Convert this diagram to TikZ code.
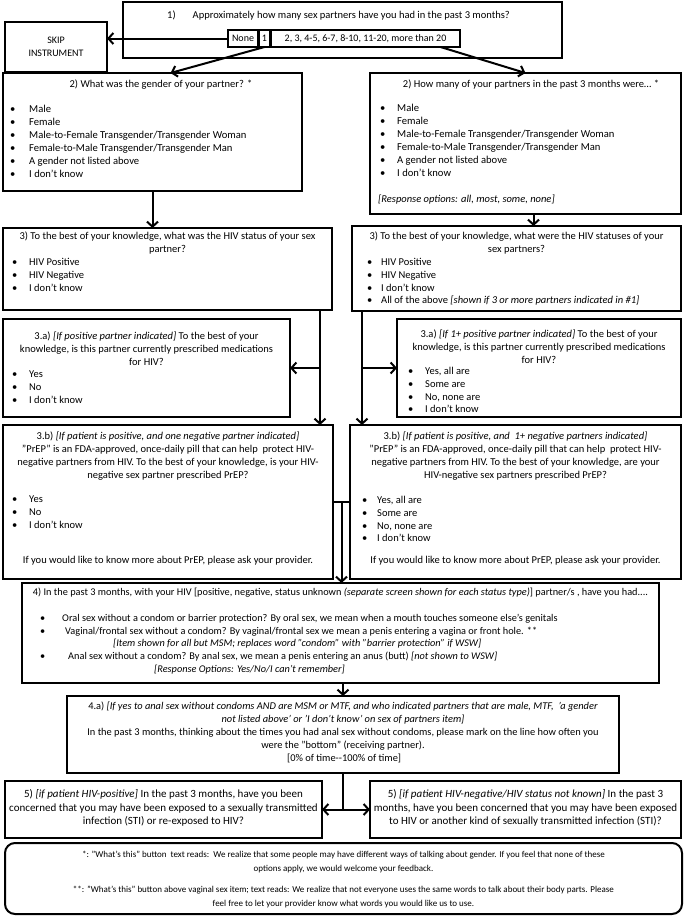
\documentclass[tikz,border=0pt]{standalone}
\usepackage{fontspec}
\setmainfont{Carlito}
\usetikzlibrary{arrows.meta,calc}

\newcommand{\bitem}[2][17pt]{\makebox[#1][l]{\textbullet}#2}

\tikzset{
  qbox/.style={draw, line width=2pt, inner sep=0pt, outer sep=0pt, anchor=north west},
  optbox/.style={draw, line width=1.5pt, inner sep=0pt, outer sep=0pt, anchor=north west, font=\fontsize{10}{12}\selectfont},
  qtext/.style={inner sep=0pt, font=\fontsize{10.5}{12.8}\selectfont},
  stext/.style={inner sep=0pt, font=\fontsize{10.3}{12.7}\selectfont},
  link/.style={line width=2pt, -{Straight Barb[length=5pt,width=11pt]}},
  link2/.style={line width=2pt, {Straight Barb[length=5pt,width=11pt]}-{Straight Barb[length=5pt,width=11pt]}},
  wire/.style={line width=2pt},
}

\begin{document}
\begin{tikzpicture}[x=1pt,y=-1pt]
\useasboundingbox (0,0) rectangle (685,918);

% question 1
\node[qbox, minimum width=439, minimum height=56] (q1) at (123,2) {};
\node[qtext, anchor=west] (t1) at (167,16) {1)\hspace{17pt}Approximately how many sex partners have you had in the past 3 months?};
\node[optbox, minimum width=30, minimum height=17] (optNone) at (228,30) {None};
\node[optbox, minimum width=11, minimum height=17] (optOne) at (259,30) {1};
\node[optbox, minimum width=189, minimum height=17] (optMany) at (271,30) {2, 3, 4-5, 6-7, 8-10, 11-20, more than 20};
\node[qbox, minimum width=102, minimum height=50, align=center, font=\fontsize{10}{13}\selectfont] (skip) at (5,22) {SKIP\\INSTRUMENT};

% question 2
\node[qbox, minimum width=299, minimum height=118] (q2L) at (3,73) {};
\node[qtext, anchor=north] (t2Lh) at (161,80) {2) What was the gender of your partner? *};
\node[qtext, anchor=north west, align=left, font=\fontsize{10.6}{13}\selectfont] (t2Ll) at (10,105)
  {\bitem[19pt]{Male}\\ \bitem[19pt]{Female}\\ \bitem[19pt]{Male-to-Female Transgender/Transgender Woman}\\
   \bitem[19pt]{Female-to-Male Transgender/Transgender Man}\\ \bitem[19pt]{A gender not listed above}\\ \bitem[19pt]{I don’t know}};
\node[qbox, minimum width=311, minimum height=141] (q2R) at (370,73) {};
\node[qtext, anchor=north] (t2Rh) at (531,80) {2) How many of your partners in the past 3 months were… *};
\node[qtext, anchor=north west, align=left, font=\fontsize{10.6}{13}\selectfont] (t2Rl) at (380,104)
  {\bitem{Male}\\ \bitem{Female}\\ \bitem{Male-to-Female Transgender/Transgender Woman}\\
   \bitem{Female-to-Male Transgender/Transgender Man}\\ \bitem{A gender not listed above}\\ \bitem{I don’t know}};
\node[qtext, anchor=west] (t2Rr) at (378,200) {\textit{[Response options: all, most, some, none]}};

% question 3
\node[qbox, minimum width=329, minimum height=82] (q3L) at (3,228) {};
\node[qtext, anchor=north, align=center] (t3Lh) at (167.5,232)
  {3) To the best of your knowledge, what was the HIV status of your sex\\ partner?};
\node[qtext, anchor=north west, align=left] (t3Ll) at (12,258)
  {\bitem{HIV Positive}\\ \bitem{HIV Negative}\\ \bitem{I don’t know}};
\node[qbox, minimum width=329, minimum height=85] (q3R) at (352,226) {};
\node[qtext, anchor=north, align=center] (t3Rh) at (516.5,232)
  {3) To the best of your knowledge, what were the HIV statuses of your\\ sex partners?};
\node[qtext, anchor=north west, align=left] (t3Rl) at (367,258)
  {\bitem[14pt]{HIV Positive}\\ \bitem[14pt]{HIV Negative}\\ \bitem[14pt]{I don’t know}\\
   \bitem[14pt]{All of the above \textit{[shown if 3 or more partners indicated in \#1]}}};

% question 3a
\node[qbox, minimum width=287, minimum height=98] (q3aL) at (3,319) {};
\node[qtext, anchor=north, align=center] (t3aLh) at (146.5,332)
  {3.a) \textit{[If positive partner indicated]} To the best of your\\ knowledge, is this partner currently prescribed medications\\ for HIV?};
\node[qtext, anchor=north west, align=left] (t3aLl) at (12,371)
  {\bitem{Yes}\\ \bitem{No}\\ \bitem{I don’t know}};
\node[qbox, minimum width=284, minimum height=98] (q3aR) at (397,319) {};
\node[qtext, anchor=north, align=center] (t3aRh) at (539,330)
  {3.a) \textit{[If 1+ positive partner indicated]} To the best of your\\ knowledge, is this partner currently prescribed medications\\ for HIV?};
\node[qtext, anchor=north west, align=left] (t3aRl) at (408,367)
  {\bitem{Yes, all are}\\ \bitem{Some are}\\ \bitem{No, none are}\\ \bitem{I don’t know}};

% question 3b
\node[qbox, minimum width=330, minimum height=154] (q3bL) at (3,425) {};
\node[qtext, anchor=north, align=center] (t3bLh) at (168,432)
  {3.b) \textit{[If patient is positive, and one negative partner indicated]}\\
   "PrEP" is an FDA-approved, once-daily pill that can help\ \ protect HIV-\\
   negative partners from HIV. To the best of your knowledge, is your HIV-\\
   negative sex partner prescribed PrEP?};
\node[qtext, anchor=north west, align=left] (t3bLl) at (12,496)
  {\bitem{Yes}\\ \bitem{No}\\ \bitem{I don’t know}};
\node[qtext, anchor=north] (t3bLf) at (168,556) {If you would like to know more about PrEP, please ask your provider.};
\node[qbox, minimum width=331, minimum height=154] (q3bR) at (350,425) {};
\node[qtext, anchor=north, align=center] (t3bRh) at (515.5,432)
  {3.b) \textit{[If patient is positive, and\ \ 1+ negative partners indicated]}\\
   "PrEP" is an FDA-approved, once-daily pill that can help\ \ protect HIV-\\
   negative partners from HIV. To the best of your knowledge, are your\\
   HIV-negative sex partners prescribed PrEP?};
\node[qtext, anchor=north west, align=left] (t3bRl) at (362,496)
  {\bitem[15pt]{Yes, all are}\\ \bitem[15pt]{Some are}\\ \bitem[15pt]{No, none are}\\ \bitem[15pt]{I don’t know}};
\node[qtext, anchor=north] (t3bRf) at (515.5,556) {If you would like to know more about PrEP, please ask your provider.};

% question 4
\node[qbox, minimum width=637, minimum height=100] (q4) at (22,583) {};
\node[stext, anchor=north] (t4h) at (340.5,588)
  {4) In the past 3 months, with your HIV [positive, negative, status unknown \textit{(separate screen shown for each status type)}] partner/s , have you had....};
\node[stext, anchor=north west, align=left] (t4l) at (40,614)
  {\bitem[22pt]{Oral sex without a condom or barrier protection? By oral sex, we mean when a mouth touches someone else's genitals}\\
   \bitem[25pt]{Vaginal/frontal sex without a condom? By vaginal/frontal sex we mean a penis entering a vagina or front hole. **}\\
   \hspace*{73pt}\textit{[Item shown for all but MSM; replaces word "condom" with "barrier protection" if WSW]}\\
   \bitem[28pt]{Anal sex without a condom? By anal sex, we mean a penis entering an anus (butt) \textit{[not shown to WSW]}}\\
   \hspace*{114pt}\textit{[Response Options: Yes/No/I can't remember]}};

% question 4a
\node[qbox, minimum width=552, minimum height=77] (q4a) at (67,696) {};
\node[stext, anchor=north, align=center, font=\fontsize{10.4}{12.9}\selectfont] (t4a) at (343,702)
  {4.a) \textit{[If yes to anal sex without condoms AND are MSM or MTF, and who indicated partners that are male, MTF,\ \ 'a gender}\\
   \textit{not listed above' or 'I don't know' on sex of partners item]}\\
   In the past 3 months, thinking about the times you had anal sex without condoms, please mark on the line how often you\\
   were the "bottom" (receiving partner).\\{}
   [0\% of time-{}-100\% of time]};

% question 5
\node[qbox, minimum width=317, minimum height=57] (q5L) at (5,781) {};
\node[stext, anchor=north, align=center, font=\fontsize{11}{13.8}\selectfont] (t5L) at (163.5,789)
  {5) \textit{[if patient HIV-positive]} In the past 3 months, have you been\\
   concerned that you may have been exposed to a sexually transmitted\\
   infection (STI) or re-exposed to HIV?};
\node[qbox, minimum width=311, minimum height=57] (q5R) at (370,781) {};
\node[stext, anchor=north, align=center, font=\fontsize{11}{13.8}\selectfont] (t5R) at (525.5,789)
  {5) \textit{[if patient HIV-negative/HIV status not known]} In the past 3\\
   months, have you been concerned that you may have been exposed\\
   to HIV or another kind of sexually transmitted infection (STI)?};

% footnotes
\node[qbox, rounded corners=10pt, minimum width=677, minimum height=71] (notes) at (5,843) {};
\node[stext, anchor=north, align=center, font=\fontsize{9}{14}\selectfont] (tnotes) at (343.5,851)
  {*: "What's this" button\ \ text reads:\ \ We realize that some people may have different ways of talking about gender. If you feel that none of these\\
   options apply, we would welcome your feedback.\\[7pt]
   **: "What's this" button above vaginal sex item; text reads: We realize that not everyone uses the same words to talk about their body parts. Please\\
   feel free to let your provider know what words you would like us to use.};

% connectors
\draw[link] (optNone.west) -- (optNone.west -| skip.east);
\draw[link] (optOne.south) -- ([xshift=18pt]q2L.north);
\draw[link] ([xshift=75pt]optMany.south) -- (q2R.north);
\draw[link] (q2L.south) -- (q2L.south |- q3L.north);
\draw[link] ([xshift=8pt]q2R.south) -- ([xshift=8pt]q2R.south |- q3R.north);

\draw[link] ([xshift=-12pt]q3L.south east) -- ([xshift=-12pt]q3L.south east |- q3bL.north);
\draw[link] ([xshift=-12pt]q3L.south east |- q3aL.east) -- (q3aL.east);
\draw[link] ([xshift=10pt]q3R.south west) -- ([xshift=10pt]q3R.south west |- q3bR.north);
\draw[link] ([xshift=10pt]q3R.south west |- q3aR.west) -- (q3aR.west);

\coordinate (mid3b) at ($(q3bL.east)!.5!(q3bR.west)$);
\draw[wire] (q3bL.east) -- (q3bR.west);
\draw[link] (mid3b) -- (mid3b |- q4.north);
\draw[link] (q4a.north |- q4.south) -- (q4a.north);
\draw[wire] (q4a.south) -- (q4a.south |- q5L.east);
\draw[link2] (q5L.east) -- (q5R.west);

\end{tikzpicture}
\end{document}
